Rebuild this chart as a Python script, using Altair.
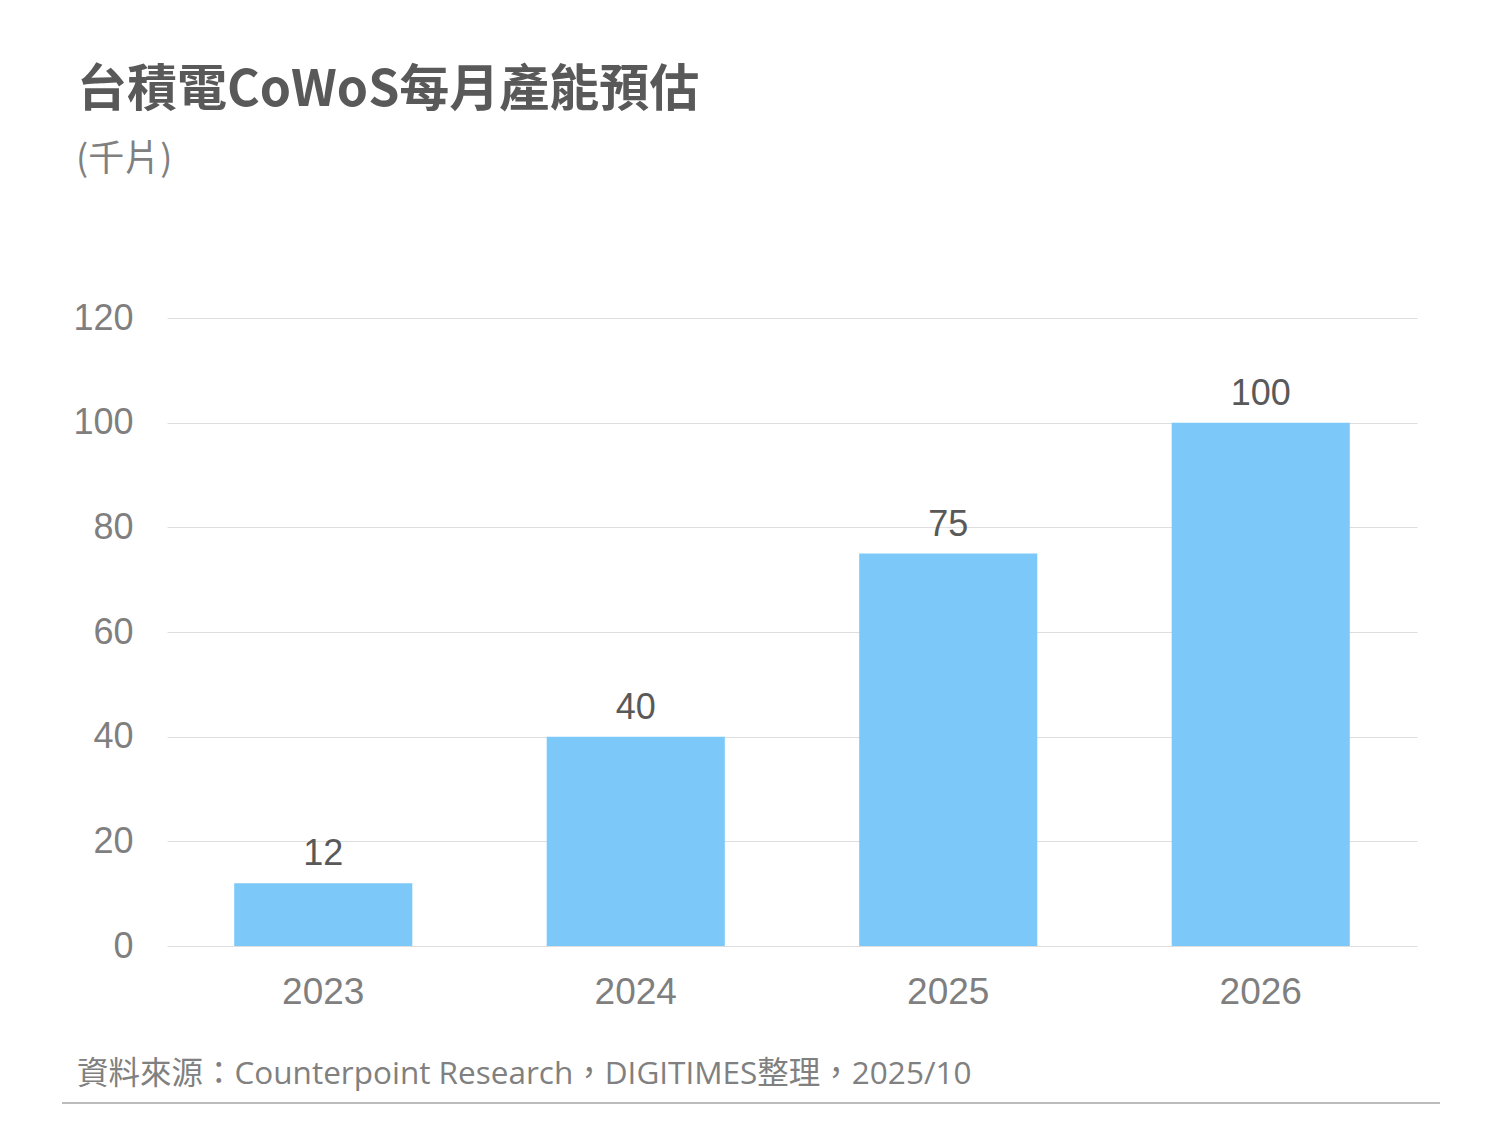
import altair as alt
import pandas as pd

years = ["2023", "2024", "2025", "2026"]
capacity = [12, 40, 75, 100]
y_ticks = [0, 20, 40, 60, 80, 100, 120]
title_text = "台積電CoWoS每月產能預估"
subtitle_text = "(千片)"
source_text = "資料來源：Counterpoint Research，DIGITIMES整理，2025/10"

df = pd.DataFrame({"year": years, "value": capacity})

W, H = 1250, 628
CJK = "Noto Sans CJK TC"
NUM = "Liberation Sans"

x_enc = alt.X(
    "year:N",
    sort=years,
    scale=alt.Scale(paddingInner=0.43, paddingOuter=0.215),
    axis=alt.Axis(
        title=None, labelAngle=0, labelFont=NUM, labelFontSize=37,
        labelColor="#7f7f7f", labelPadding=28, ticks=False, domain=False,
        grid=False,
    ),
)
y_enc = alt.Y(
    "value:Q",
    scale=alt.Scale(domain=[0, 120]),
    axis=alt.Axis(
        title=None, values=y_ticks, labelFont=NUM, labelFontSize=36,
        labelColor="#7f7f7f", labelPadding=34, ticks=False, domain=False,
        gridColor="#dedede", gridWidth=1,
    ),
)

bars = alt.Chart(df).mark_bar(color="#7cc9f9").encode(x=x_enc, y=y_enc)
labels = alt.Chart(df).mark_text(
    font=NUM, fontSize=36, color="#595959", baseline="alphabetic", dy=-18
).encode(x=alt.X("year:N", sort=years), y="value:Q", text="value:Q")

tdf = pd.DataFrame({"t": [title_text]})
title = alt.Chart(tdf).mark_text(
    font=CJK, fontSize=50, fontWeight="bold", color="#595959",
    align="left", baseline="alphabetic",
).encode(x=alt.value(-90), y=alt.value(-212), text="t:N")

sdf = pd.DataFrame({"t": [subtitle_text]})
subtitle = alt.Chart(sdf).mark_text(
    font=CJK, fontSize=36, color="#808080", align="left", baseline="middle",
).encode(x=alt.value(-91), y=alt.value(-158), text="t:N")

fdf = pd.DataFrame({"t": [source_text]})
footer = alt.Chart(fdf).mark_text(
    font="Open Sans, Noto Sans CJK TC", fontSize=31.5, color="#808080",
    align="left", baseline="middle",
).encode(x=alt.value(-90), y=alt.value(757), text="t:N")

line = alt.Chart(fdf).mark_rule(color="#a6a6a6", strokeWidth=1.5).encode(
    x=alt.value(-105), x2=alt.value(1273), y=alt.value(785)
)

chart = (
    alt.layer(bars, labels, title, subtitle, footer, line)
    .properties(
        width=W, height=H,
        background="white",
        autosize=alt.AutoSizeParams(type="none"),
        padding={"left": 159, "top": 310, "right": 70, "bottom": 160},
    )
    .configure_view(strokeWidth=0, stroke=None)
)

chart.save("out.html", embed_options={"renderer": "svg", "actions": False})
